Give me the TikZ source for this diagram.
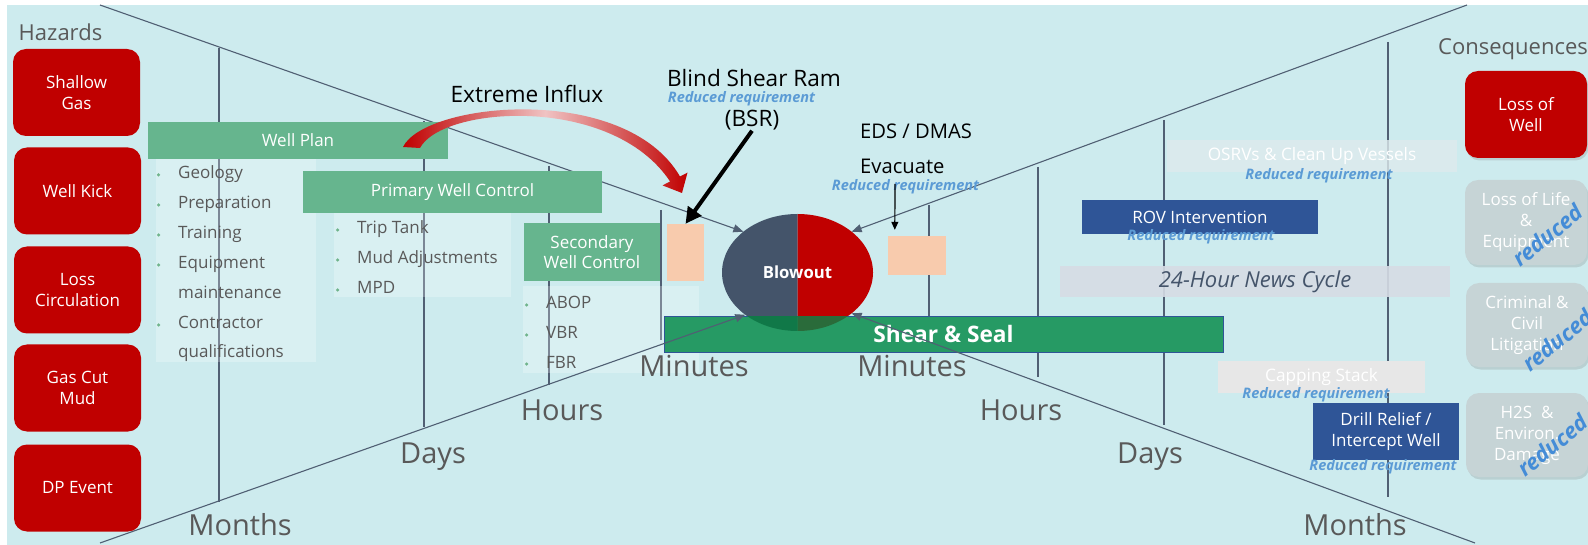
\documentclass[tikz,border=0pt]{standalone}
\usepackage{fontspec}
\setmainfont{Open Sans}
\setsansfont{Open Sans}
\usetikzlibrary{arrows.meta,shadows,shapes.geometric}
\definecolor{bgc}{RGB}{205,235,238}
\definecolor{hred}{RGB}{192,0,0}
\definecolor{slate}{RGB}{68,84,106}
\definecolor{gline}{RGB}{80,95,115}
\definecolor{wgreen}{RGB}{102,181,142}
\definecolor{sgreen}{RGB}{38,154,100}
\definecolor{peach}{RGB}{248,203,173}
\definecolor{dblue}{RGB}{47,85,151}
\definecolor{txtgrey}{RGB}{89,89,89}
\definecolor{reqblue}{RGB}{91,155,213}
\definecolor{rotblue}{RGB}{68,140,215}
\definecolor{cgrey}{RGB}{198,212,214}
\definecolor{newsc}{RGB}{214,220,229}
\definecolor{osrvc}{RGB}{222,234,237}
\definecolor{capc}{RGB}{231,231,231}
\definecolor{bulc}{RGB}{112,180,140}
\definecolor{pinkm}{RGB}{240,195,195}
\definecolor{ovl}{RGB}{16,120,72}
\definecolor{ovr}{RGB}{42,107,58}
\tikzset{
  hazard/.style={fill=hred, rounded corners=13pt, minimum width=127pt, minimum height=87pt, inner sep=0pt, text=white, align=center, font=\fontsize{17}{21}\selectfont},
  conseq/.style={hazard, fill=cgrey, minimum width=122pt, drop shadow={opacity=0.25, shadow xshift=1.5pt, shadow yshift=-2.5pt}},
  gbar/.style={fill=wgreen, inner sep=0pt, text=white, align=center, font=\fontsize{17}{20}\selectfont},
  listbox/.style={fill=white, fill opacity=0.25, inner sep=0pt},
  litem/.style={anchor=west, text height=12pt, text depth=4pt, inner sep=0pt, text=txtgrey, font=\fontsize{17}{20}\selectfont},
  bul/.style={circle, fill=bulc, inner sep=0pt, minimum size=3.5pt},
  vline/.style={draw=gline, line width=1.3pt},
  diag/.style={draw=gline, line width=1.1pt, -{Triangle[length=10pt,width=8pt]}},
  tlabel/.style={anchor=base, inner sep=0pt, text=txtgrey, font=\fontsize{29}{30}\selectfont},
  ttl/.style={inner sep=0pt, text=txtgrey, font=\fontsize{22}{24}\selectfont},
  blab/.style={anchor=base, inner sep=0pt, text=black, font=\fontsize{22.6}{26}\selectfont},
  redreq/.style={anchor=base, inner sep=0pt, text=reqblue, font=\fontsize{14.5}{16}\selectfont\bfseries\itshape},
  redrot/.style={anchor=base west, inner sep=0pt, rotate=39, text=rotblue, font=\fontsize{22}{24}\selectfont\bfseries\itshape},
  dbox/.style={fill=dblue, inner sep=0pt, text=white, align=center, font=\fontsize{17}{21}\selectfont},
}
\begin{document}
\begin{tikzpicture}[x=1pt,y=-1pt]
\useasboundingbox (0,0) rectangle (1588,545);
\fill[bgc] (7,5) rectangle (1588,545);

% vertical time lines
\foreach \x/\a/\b in {219/48/502, 424/121/427, 549/166/385, 661/210/340, 929/205/343, 1038/167/377, 1164/120/425, 1388/42/497}
  \draw[vline] (\x,\a) -- (\x,\b);

% list boxes (translucent)
\node[listbox, minimum width=160pt, minimum height=207pt] (wpl) at (236,258.5) {};
\node[listbox, minimum width=177pt, minimum height=87pt] (pwl) at (422.5,253.5) {};
\node[listbox, minimum width=176pt, minimum height=87pt] (swl) at (611,329.5) {};

% blowout ellipse
\begin{scope}
  \clip (720,210) rectangle (797.5,335);
  \fill[slate] (797.5,272.5) ellipse[x radius=75.5, y radius=58.5];
\end{scope}
\begin{scope}
  \clip (797.5,210) rectangle (875,335);
  \fill[hred] (797.5,272.5) ellipse[x radius=75.5, y radius=58.5];
\end{scope}

% shear & seal bar
\node[fill=sgreen, draw=dblue, line width=0.8pt, minimum width=559pt, minimum height=36pt, inner sep=0pt, text=white, font=\fontsize{22.7}{24}\selectfont\bfseries] (shear) at (943.5,334) {Shear \& Seal};
\begin{scope}
  \clip (664.5,316.6) rectangle (797.5,351.4);
  \fill[ovl] (797.5,272.5) ellipse[x radius=75.5, y radius=58.5];
\end{scope}
\begin{scope}
  \clip (797.5,316.6) rectangle (1000,351.4);
  \fill[ovr] (797.5,272.5) ellipse[x radius=75.5, y radius=58.5];
\end{scope}
\node[ellipse, minimum width=151pt, minimum height=117pt, inner sep=0pt, outer sep=0pt, text=white, font=\fontsize{16.7}{18}\selectfont\bfseries] (blowout) at (797.5,272.5) {Blowout};

% bow-tie diagonals
\coordinate (ulS) at (100,5);
\coordinate (llS) at (100,543);
\coordinate (urS) at (1467,5);
\coordinate (lrS) at (1475,543);
\draw[diag] (ulS) -- (blowout.143);
\draw[diag] (llS) -- (blowout.219);
\draw[diag] (urS) -- (blowout.37);
\draw[diag] (lrS) -- (blowout.323);

% green bars
\node[gbar, minimum width=300pt, minimum height=37pt] (wp) at (298,140.5) {Well Plan};
\node[gbar, minimum width=299pt, minimum height=42pt] (pwc) at (452.5,192) {Primary Well Control};
\node[gbar, minimum width=136pt, minimum height=58pt] (swc) at (592,252) {Secondary\\Well Control};
\node[fill=peach, minimum width=37pt, minimum height=57pt, inner sep=0pt] (peachL) at (685.5,252.5) {};
\node[fill=peach, minimum width=58pt, minimum height=39pt, inner sep=0pt] (peachR) at (917,255.5) {};

% list items
\foreach \t/\y/\b [count=\i] in {Geology/175/1, Preparation/205/1, Training/235/1, Equipment/265/1, maintenance/295/0, Contractor/325/1, qualifications/354/0} {
  \node[litem] (wpi\i) at (178,\y) {\t};
  \ifnum\b=1 \node[bul] (wpb\i) at (158.5,\y) {};\fi
}
\foreach \t/\y [count=\i] in {Trip Tank/230, Mud Adjustments/260, MPD/290} {
  \node[litem] (pwi\i) at (357,\y) {\t};
  \node[bul] (pwb\i) at (337.5,\y) {};
}
\foreach \t/\y [count=\i] in {ABOP/305, VBR/335, FBR/364} {
  \node[litem] (swi\i) at (546,\y) {\t};
  \node[bul] (swb\i) at (526.5,\y) {};
}

% hazards
\node[ttl, anchor=base] (hz) at (60.5,41) {Hazards};
\node[hazard] (h1) at (76.5,92.5) {Shallow\\Gas};
\node[hazard] (h2) at (77.5,191) {Well Kick};
\node[hazard] (h3) at (77.5,290) {Loss\\Circulation};
\node[hazard] (h4) at (77.5,388) {Gas Cut\\Mud};
\node[hazard] (h5) at (77.5,488) {DP Event};

% consequences
\node[ttl, anchor=base west] (cq) at (1438,55) {Consequences};
\node[hazard, minimum width=122pt, drop shadow={opacity=0.25, shadow xshift=1.5pt, shadow yshift=-2.5pt}] (c1) at (1526,114.5) {Loss of\\Well};
\node[conseq, minimum height=85pt] (c2) at (1526,222.5) {Loss of Life\\\&\\Equipment};
\node[conseq, minimum height=84pt] (c3) at (1527,325) {Criminal \&\\Civil\\Litigation};
\node[conseq, minimum height=84pt] (c4) at (1527,435) {H2S \ \&\\Environ.\\Damage};
\node[redrot] (r2) at (1520,268) {reduced};
\node[redrot] (r3) at (1530,373) {reduced};
\node[redrot] (r4) at (1525,478) {reduced};

% right-side response boxes
\node[fill=osrvc, fill opacity=0.8, text opacity=1, minimum width=290pt, minimum height=32pt, inner sep=0pt, text=white, font=\fontsize{17.2}{20}\selectfont] (osrv) at (1312,156) {OSRVs \& Clean Up Vessels};
\node[redreq] (osrvr) at (1319,180) {Reduced requirement};
\node[dbox, minimum width=236pt, minimum height=34pt] (rov) at (1200,217) {ROV Intervention};
\node[redreq] (rovr) at (1201,241) {Reduced requirement};
\node[fill=newsc, fill opacity=0.9, text opacity=1, minimum width=390pt, minimum height=31pt, inner sep=0pt, text=slate, font=\fontsize{22}{24}\selectfont\itshape] (news) at (1255,281.5) {24-Hour News Cycle};
\node[fill=capc, minimum width=207pt, minimum height=32pt, inner sep=0pt, text=white, font=\fontsize{17.2}{20}\selectfont] (cap) at (1321.5,377) {Capping Stack};
\node[redreq] (capr) at (1316,398) {Reduced requirement};
\node[dbox, minimum width=146pt, minimum height=57pt] (drill) at (1386,431.5) {Drill Relief /\\Intercept Well};
\node[redreq] (drillr) at (1383,470) {Reduced requirement};

% time labels
\node[tlabel] (mL) at (240,535) {Months};
\node[tlabel] (dL) at (433,463) {Days};
\node[tlabel] (hL) at (562,420) {Hours};
\node[tlabel] (minL) at (694,377) {Minutes};
\node[tlabel] (minR) at (912,377) {Minutes};
\node[tlabel] (hR) at (1021,420) {Hours};
\node[tlabel] (dR) at (1150,463) {Days};
\node[tlabel] (mR) at (1355,535) {Months};

% centre labels
\node[blab] (influx) at (527,103) {Extreme Influx};
\node[blab] (bsrt) at (754,87) {Blind Shear Ram};
\node[redreq] (bsrr) at (741.5,103) {Reduced requirement};
\node[blab] (bsr) at (752,127) {(BSR)};
\node[blab, anchor=base west, font=\fontsize{20.2}{24}\selectfont] (eds) at (860,139) {EDS / DMAS};
\node[blab, anchor=base west, font=\fontsize{20.2}{24}\selectfont] (evac) at (860,174) {Evacuate};
\node[redreq] (evr) at (905.5,191) {Reduced requirement};

% extreme influx curved arrow
\shade[left color=hred, right color=hred, middle color=pinkm]
  (403,147) .. controls (425,102) and (625,82) .. (680,176.5)
  -- (687.5,172.6) -- (682,193) -- (662.5,185.4) -- (670.1,181.5)
  .. controls (612,94) and (442,106) .. (420,148) -- cycle;

% BSR arrow
\draw[line width=4pt, -{Triangle[length=16pt,width=16pt]}] (bsr.south) -- (peachL.north);
% evacuate arrow
\coordinate (evarr) at (895,184);
\draw[line width=1.2pt, -{Triangle[length=8pt,width=7pt]}] (evarr) -- ([shift={(7pt,6pt)}]peachR.north west);
\end{tikzpicture}
\end{document}
